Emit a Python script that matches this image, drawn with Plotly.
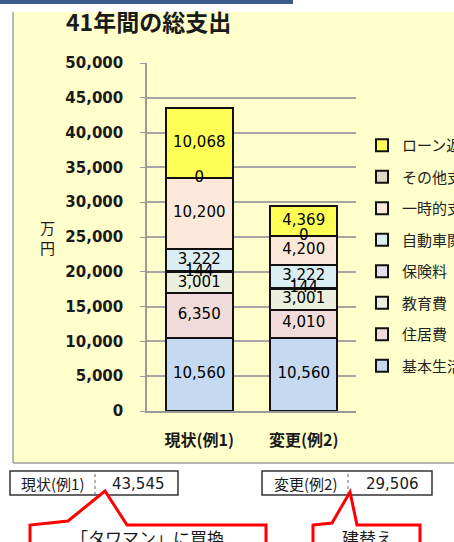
import plotly.graph_objects as go

# ---- data ----
categories = ["現状(例1)", "変更(例2)"]
series_names = ["基本生活費", "住居費", "教育費", "保険料", "自動車関連", "一時的支出", "その他支出", "ローン返済"]
series_values = [
    [10560, 10560],
    [6350, 4010],
    [3001, 3001],
    [144, 144],
    [3222, 3222],
    [10200, 4200],
    [0, 0],
    [10068, 4369],
]
series_colors = ["#c5d9f1", "#f2dcdb", "#ebf0de", "#e4dfec", "#dbeef4", "#fde9d9", "#ddd9c4", "#ffff55"]
y_ticks = [0, 5000, 10000, 15000, 20000, 25000, 30000, 35000, 40000, 45000, 50000]
callout_texts = ["「タワマン」に買換", "建替え"]

W, H = 454, 542
L, R, T, B = 147, 356, 63, 411
PW, PH = R - L, B - T


def px(x):
    return (x - L) / PW


def py(y):
    return (B - y) / PH


FONT = "DejaVu Sans, Noto Sans CJK JP, sans-serif"
CJK = "Noto Sans CJK JP, DejaVu Sans, sans-serif"

fig = go.Figure()
n = len(series_names)
for i, (name, vals, col) in enumerate(zip(series_names, series_values, series_colors)):
    fig.add_trace(go.Bar(
        x=categories, y=vals, name=name, legendgroup=name, legendrank=100 + (n - i),
        marker=dict(color=col, line=dict(color="#111111", width=2)),
        width=0.64, textposition="none", hoverinfo="skip",
    ))

# data labels at segment centres
lab_x, lab_y, lab_t = [], [], []
for ci, cat in enumerate(categories):
    base = 0
    for vals in series_values:
        v = vals[ci]
        lab_x.append(cat)
        lab_y.append(base + v / 2)
        lab_t.append(f"{v:,}")
        base += v
fig.add_trace(go.Scatter(
    x=lab_x, y=lab_y, text=lab_t, mode="text", showlegend=False,
    textfont=dict(family=FONT, size=15, color="#000000"), hoverinfo="skip",
))

shapes = []
# top dark bar
shapes.append(dict(type="rect", xref="paper", yref="paper", x0=px(0), x1=px(293), y0=py(4), y1=py(-2),
                   fillcolor="#3c5a8a", line=dict(width=0), layer="below"))
# yellow chart background
shapes.append(dict(type="rect", xref="paper", yref="paper", x0=px(13), x1=px(470), y0=py(463), y1=py(12),
                   fillcolor="#ffffcc", line=dict(width=0), layer="below"))
shapes.append(dict(type="line", xref="paper", yref="paper", x0=px(13), x1=px(13), y0=py(463), y1=py(12),
                   line=dict(color="#a0a0a0", width=1.5), layer="below"))
shapes.append(dict(type="line", xref="paper", yref="paper", x0=px(13), x1=px(470), y0=py(463), y1=py(463),
                   line=dict(color="#a0a0a0", width=1.5), layer="below"))

annotations = []
annotations.append(dict(text="<b>41年間の総支出</b>", xref="paper", yref="paper", x=px(64), y=py(21),
                        xanchor="left", yanchor="middle", showarrow=False,
                        font=dict(family=CJK, size=23, color="#1a1a1a")))
annotations.append(dict(text="万<br>円", xref="paper", yref="paper", x=px(47), y=py(237),
                        xanchor="center", yanchor="middle", showarrow=False,
                        font=dict(family=CJK, size=15, color="#1a1a1a")))

# summary boxes
totals = [sum(vals[ci] for vals in series_values) for ci in range(len(categories))]
boxes = [(10, 95, 178), (262, 348, 432)]
for (x0, xd, x1), cat, tot in zip(boxes, categories, totals):
    shapes.append(dict(type="rect", xref="paper", yref="paper", x0=px(x0), x1=px(x1), y0=py(495), y1=py(471),
                       fillcolor="white", line=dict(color="#333333", width=1.5)))
    shapes.append(dict(type="line", xref="paper", yref="paper", x0=px(xd), x1=px(xd), y0=py(495), y1=py(471),
                       line=dict(color="#666666", width=1, dash="dot")))
    annotations.append(dict(text=cat, xref="paper", yref="paper", x=px((x0 + xd) / 2), y=py(483),
                            xanchor="center", yanchor="middle", showarrow=False,
                            font=dict(family=CJK, size=15, color="#1a1a1a")))
    annotations.append(dict(text=f"{tot:,}", xref="paper", yref="paper", x=px((xd + x1) / 2 + 2), y=py(484),
                            xanchor="center", yanchor="middle", showarrow=False,
                            font=dict(family=FONT, size=15, color="#1a1a1a")))


# callouts
def path(points):
    return "M " + " L ".join(f"{px(a)},{py(b)}" for a, b in points)


callouts = [
    ([(30, 570), (30, 525), (68, 521), (105, 491), (127, 525), (266, 525), (266, 570)], 147),
    ([(313, 570), (313, 525), (332, 523), (350, 492), (357, 525), (420, 525), (420, 570)], 367),
]
for (pts, cx), txt in zip(callouts, callout_texts):
    shapes.append(dict(type="path", xref="paper", yref="paper", path=path(pts),
                       fillcolor="white", line=dict(color="#ff0000", width=3)))
    annotations.append(dict(text=txt, xref="paper", yref="paper", x=px(cx), y=py(537),
                            xanchor="center", yanchor="middle", showarrow=False,
                            font=dict(family=CJK, size=17, color="#1a1a1a")))

fig.update_layout(
    width=W, height=H,
    margin=dict(l=L, r=W - R, t=T, b=H - B, pad=0, autoexpand=False),
    paper_bgcolor="white", plot_bgcolor="rgba(0,0,0,0)",
    barmode="stack", bargap=0.36,
    showlegend=True,
    legend=dict(x=px(362), y=py(129), xanchor="left", yanchor="top",
                traceorder="grouped", tracegroupgap=9,
                font=dict(family=CJK, size=15, color="#222222"),
                bgcolor="rgba(0,0,0,0)", itemwidth=30),
    shapes=shapes, annotations=annotations,
    xaxis=dict(showline=True, linecolor="#9a9a9a", linewidth=1.5, showgrid=False,
               tickfont=dict(family=CJK, size=16, color="#1a1a1a", weight="bold"),
               ticklabelstandoff=14, fixedrange=True),
    yaxis=dict(range=[0, 50000], tickvals=y_ticks, ticktext=[f"{v:,}" for v in y_ticks],
               showline=True, linecolor="#9a9a9a", linewidth=1.5,
               showgrid=True, gridcolor="#a6a6a6", gridwidth=1.5,
               ticks="outside", ticklen=5, tickcolor="#9a9a9a",
               tickfont=dict(family="DejaVu Sans", size=15, color="#1a1a1a", weight="bold"),
               ticklabelstandoff=14, zeroline=False, fixedrange=True),
)

fig.write_html("out.html", config={"displayModeBar": False},
               post_script="document.body.style.margin='0';document.body.style.overflow='hidden';")
